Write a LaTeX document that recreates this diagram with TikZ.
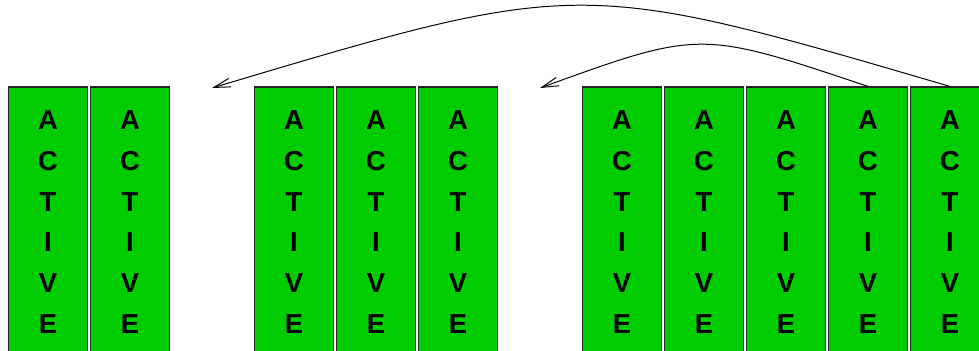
\documentclass[tikz,border=0pt]{standalone}
\usepackage{fontspec}
\setmainfont{Liberation Sans}
\usetikzlibrary{arrows.meta}
\definecolor{actgreen}{RGB}{0,204,0}

\begin{document}
\begin{tikzpicture}[col/.style={rectangle,draw=black!85,line width=0.8pt,fill=actgreen,
    minimum width=1.98cm,minimum height=6.75cm,inner sep=0pt,align=center,
    font=\bfseries\fontsize{19.5}{28.9}\selectfont},
  move/.style={line width=0.7pt,-{Straight Barb[length=4.2mm,width=2.2mm]}}]

\useasboundingbox (0,0) rectangle (24.475,-8.775);

\foreach \i in {0,1,3,4,5,7,8,9,10,11}
	\node[col] (c\i) at ({1.2+2.05*\i}, -5.55) {A\\C\\T\\I\\V\\E};

\coordinate (s2) at (5.3, -2.2);
\coordinate (s6) at (13.5, -2.2);

\draw[move] (c11.north) .. controls (14.5, 0.55) .. (s2);
\draw[move] (c10.north) .. controls (17.5, -0.75) .. (s6);

\end{tikzpicture}
\end{document}
